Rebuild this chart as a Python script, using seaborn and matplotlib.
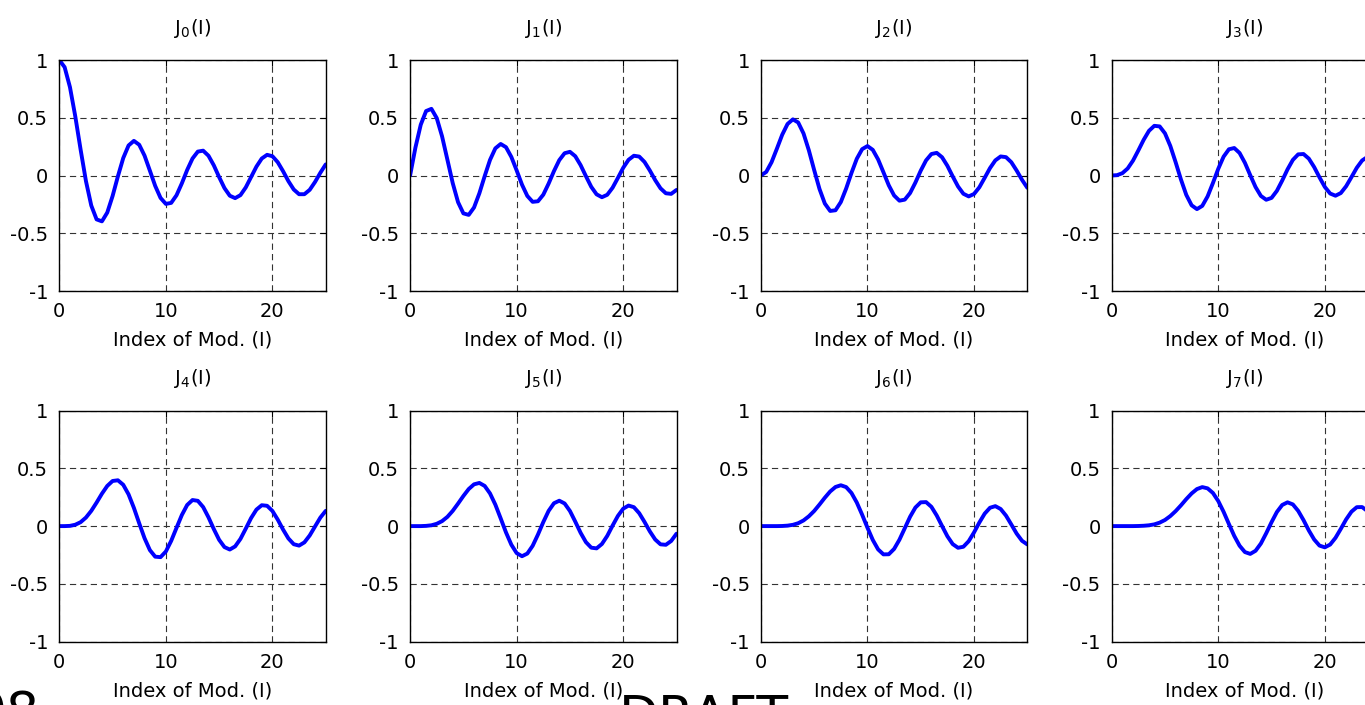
import matplotlib
matplotlib.use("Agg")
import matplotlib.pyplot as plt
import seaborn as sns
import pandas as pd

# ---- data ----
I_vals = [0, 0.5, 1, 1.5, 2, 2.5, 3, 3.5, 4, 4.5, 5, 5.5, 6, 6.5, 7, 7.5, 8, 8.5, 9, 9.5,
          10, 10.5, 11, 11.5, 12, 12.5, 13, 13.5, 14, 14.5, 15, 15.5, 16, 16.5, 17, 17.5,
          18, 18.5, 19, 19.5, 20, 20.5, 21, 21.5, 22, 22.5, 23, 23.5, 24, 24.5, 25]

J0 = [1.000, 0.938, 0.765, 0.512, 0.224, -0.048, -0.260, -0.380, -0.397, -0.321, -0.178, -0.007,
      0.151, 0.260, 0.300, 0.266, 0.172, 0.042, -0.090, -0.194, -0.246, -0.237, -0.171, -0.068,
      0.048, 0.147, 0.207, 0.215, 0.171, 0.088, -0.014, -0.109, -0.175, -0.196, -0.170, -0.103,
      -0.013, 0.077, 0.147, 0.179, 0.167, 0.115, 0.037, -0.049, -0.121, -0.162, -0.162, -0.124,
      -0.056, 0.024, 0.096]
J1 = [0.000, 0.242, 0.440, 0.558, 0.577, 0.497, 0.339, 0.137, -0.066, -0.231, -0.328, -0.341,
      -0.277, -0.154, -0.005, 0.135, 0.235, 0.273, 0.245, 0.161, 0.044, -0.079, -0.177, -0.228,
      -0.223, -0.166, -0.070, 0.038, 0.133, 0.193, 0.205, 0.167, 0.090, -0.006, -0.098, -0.163,
      -0.188, -0.167, -0.106, -0.021, 0.067, 0.136, 0.171, 0.164, 0.117, 0.043, -0.040, -0.111,
      -0.154, -0.159, -0.125]
J2 = [0.000, 0.031, 0.115, 0.232, 0.353, 0.446, 0.486, 0.459, 0.364, 0.218, 0.047, -0.117,
      -0.243, -0.307, -0.301, -0.230, -0.113, 0.022, 0.145, 0.228, 0.255, 0.222, 0.139, 0.028,
      -0.085, -0.173, -0.218, -0.209, -0.152, -0.061, 0.042, 0.131, 0.186, 0.196, 0.158, 0.084,
      -0.008, -0.095, -0.158, -0.181, -0.160, -0.102, -0.020, 0.064, 0.131, 0.165, 0.159, 0.115,
      0.043, -0.037, -0.106]
J3 = [0.000, 0.003, 0.020, 0.061, 0.129, 0.217, 0.309, 0.387, 0.430, 0.425, 0.365, 0.256,
      0.115, -0.035, -0.168, -0.258, -0.291, -0.263, -0.181, -0.065, 0.058, 0.163, 0.227, 0.238,
      0.195, 0.110, 0.003, -0.100, -0.177, -0.210, -0.194, -0.133, -0.044, 0.053, 0.135, 0.183,
      0.186, 0.146, 0.073, -0.016, -0.099, -0.156, -0.175, -0.152, -0.093, -0.014, 0.067, 0.130,
      0.161, 0.153, 0.108]
J4 = [0.000, 0.000, 0.002, 0.012, 0.034, 0.074, 0.132, 0.204, 0.281, 0.348, 0.391, 0.397,
      0.358, 0.275, 0.158, 0.024, -0.105, -0.208, -0.265, -0.269, -0.220, -0.128, -0.015, 0.096,
      0.183, 0.226, 0.219, 0.165, 0.076, -0.026, -0.119, -0.182, -0.203, -0.176, -0.111, -0.022,
      0.070, 0.143, 0.181, 0.176, 0.131, 0.056, -0.030, -0.107, -0.157, -0.169, -0.141, -0.081,
      -0.003, 0.074, 0.132]
J5 = [0.000, 0.000, 0.000, 0.002, 0.007, 0.020, 0.043, 0.080, 0.132, 0.195, 0.261, 0.321,
      0.362, 0.374, 0.348, 0.283, 0.186, 0.067, -0.055, -0.161, -0.234, -0.261, -0.238, -0.171,
      -0.073, 0.035, 0.132, 0.198, 0.220, 0.196, 0.131, 0.039, -0.058, -0.139, -0.187, -0.193,
      -0.155, -0.085, 0.004, 0.088, 0.151, 0.178, 0.164, 0.112, 0.036, -0.046, -0.116, -0.158,
      -0.162, -0.129, -0.066]
J6 = [0.000, 0.000, 0.000, 0.000, 0.001, 0.004, 0.011, 0.025, 0.049, 0.085, 0.131, 0.187,
      0.246, 0.300, 0.339, 0.354, 0.338, 0.287, 0.204, 0.099, -0.014, -0.120, -0.202, -0.245,
      -0.244, -0.198, -0.118, -0.019, 0.081, 0.161, 0.206, 0.208, 0.167, 0.092, 0.001, -0.088,
      -0.156, -0.188, -0.179, -0.131, -0.055, 0.031, 0.108, 0.159, 0.173, 0.148, 0.091, 0.014,
      -0.065, -0.127, -0.159]
J7 = [0.000, 0.000, 0.000, 0.000, 0.000, 0.001, 0.003, 0.007, 0.015, 0.030, 0.053, 0.087,
      0.130, 0.180, 0.234, 0.283, 0.321, 0.338, 0.327, 0.287, 0.217, 0.124, 0.018, -0.085,
      -0.170, -0.225, -0.241, -0.214, -0.151, -0.062, 0.034, 0.122, 0.183, 0.206, 0.188, 0.132,
      0.052, -0.038, -0.116, -0.169, -0.184, -0.160, -0.102, -0.024, 0.058, 0.125, 0.164, 0.165,
      0.130, 0.067, -0.010]

series = [J0, J1, J2, J3, J4, J5, J6, J7]
titles = ["J$_{0}$(I)", "J$_{1}$(I)", "J$_{2}$(I)", "J$_{3}$(I)",
          "J$_{4}$(I)", "J$_{5}$(I)", "J$_{6}$(I)", "J$_{7}$(I)"]
xlabel = "Index of Mod. (I)"
xticks = [0, 10, 20]
xticklabels = ["0", "10", "20"]
yticks = [-1, -0.5, 0, 0.5, 1]
yticklabels = ["-1", "-0.5", "0", "0.5", "1"]

# ---- style ----
sns.set_style("white")
plt.rcParams["font.family"] = ["DejaVu Sans"]
plt.rcParams["mathtext.default"] = "regular"
plt.rcParams["lines.scale_dashes"] = False
plt.rcParams["text.color"] = "black"
plt.rcParams["axes.labelcolor"] = "black"
plt.rcParams["xtick.color"] = "black"
plt.rcParams["ytick.color"] = "black"

W, H = 1365, 705
fig = plt.figure(figsize=(W / 100, H / 100), dpi=100)

col_left = [59.3, 410.1, 760.9, 1111.7]
ax_w = 266.4
rows = [(60.0, 291.0), (410.7, 641.5)]

fs = 14
for k, vals in enumerate(series):
    r, c = divmod(k, 4)
    top, bot = rows[r]
    ax = fig.add_axes([col_left[c] / W, (H - bot) / H, ax_w / W, (bot - top) / H])
    df = pd.DataFrame({"I": I_vals, "J": vals})
    sns.lineplot(data=df, x="I", y="J", ax=ax, color="#0000ff", linewidth=2.8)
    ax.set_xlim(0, 25)
    ax.set_ylim(-1, 1)
    ax.set_xticks(xticks)
    ax.set_xticklabels(xticklabels)
    ax.set_yticks(yticks)
    ax.set_yticklabels(yticklabels)
    ax.grid(True, color="#333333", linewidth=0.8, linestyle=(0, (4.5, 3.0)))
    ax.tick_params(direction="in", length=4, width=0.8, colors="black",
                   labelsize=fs, pad=8, top=True, right=True)
    for sp in ax.spines.values():
        sp.set_color("black")
        sp.set_linewidth(1.0)
    ax.set_xlabel(xlabel, fontsize=fs, labelpad=7, color="black")
    ax.set_ylabel("")
    ax.set_title(titles[k], fontsize=fs, pad=19, color="black")

fig.text(703.5 / W, (H - 733) / H, "DRAFT", fontsize=37.4, ha="center", va="baseline",
         color="black")
fig.text(40 / W, (H - 730) / H, "08", fontsize=37.4, ha="right", va="baseline",
         color="black")

fig.savefig("out.png", dpi=100)
